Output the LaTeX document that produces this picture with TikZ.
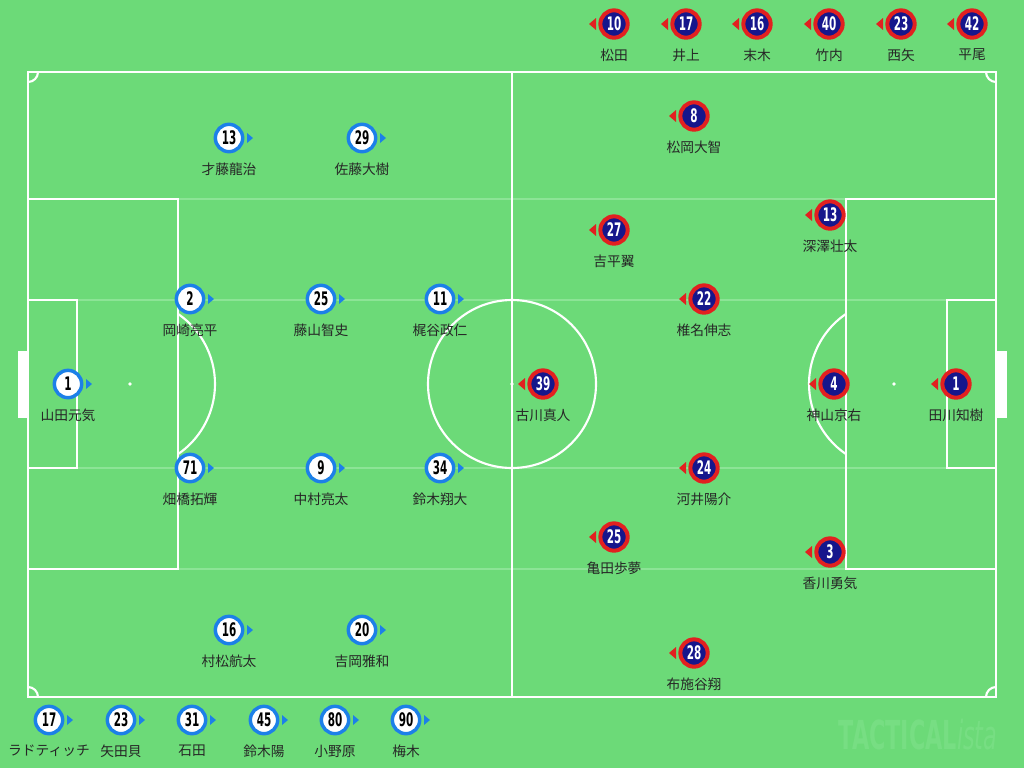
\documentclass[tikz,border=0pt]{standalone}
\usepackage{fontspec}
\newfontfamily\jpfont{Noto Sans CJK JP}
\newfontfamily\numfont{DejaVu Sans Condensed}
\definecolor{pitch}{RGB}{108,218,120}
\definecolor{pitchline}{RGB}{140,228,150}
\definecolor{homering}{RGB}{28,128,232}
\definecolor{awayring}{RGB}{226,32,32}
\definecolor{awaynavy}{RGB}{22,22,140}
\definecolor{logo}{RGB}{119,222,131}
\newcommand{\shirt}[1]{\scalebox{0.62}[1]{#1}}

\begin{document}
\begin{tikzpicture}[x=0.75pt, y=-0.75pt,
    line/.style={draw=white, line width=1.6pt},
    faint/.style={draw=pitchline, line width=0.8pt},
    home/.style={circle, draw=homering, fill=white, line width=2.6pt, minimum size=20.5pt, inner sep=0pt,
        font=\numfont\bfseries\fontsize{14}{14}\selectfont},
    away/.style={home, draw=awayring, fill=awaynavy, text=white, line width=3pt},
    pname/.style={font=\jpfont\fontsize{10.3}{12}\selectfont, text=black!85}]
    \useasboundingbox (0,0) rectangle (1024,768);
    \fill[pitch] (0,0) rectangle (1024,768);
    \foreach \y in {199,300,468,569}
        \draw[faint] (28,\y) -- (996,\y);
    \draw[line] (28,72) rectangle (996,697);
    \draw[line] (512,72) -- (512,697);
    \draw[line] (512,384) circle (84);
    \draw[line] (28,199) rectangle (178,569);
    \draw[line] (846,199) rectangle (996,569);
    \draw[line] (28,300) rectangle (77,468);
    \draw[line] (947,300) rectangle (996,468);
    \draw[line] (130,384) ++(-55.6:85) arc (-55.6:55.6:85);
    \draw[line] (894,384) ++(124.4:85) arc (124.4:235.6:85);
    \draw[line] (38,72) arc (0:90:10);
    \draw[line] (986,72) arc (180:90:10);
    \draw[line] (38,697) arc (0:-90:10);
    \draw[line] (986,697) arc (180:270:10);
    \fill[white] (18,351) rectangle (28,418);
    \fill[white] (996,351) rectangle (1007,418);
    \foreach \x in {130,512,894}
        \fill[white] (\x,384) circle (1.8);
    \node[font=\numfont\bfseries\fontsize{30}{30}\selectfont, text=logo] (logo) at (918,735)
        {\scalebox{0.62}[1]{TACTICAL\textmd{\itshape ista}}};

    \foreach \n/\x/\y/\who in {1/68/384/山田元気, 2/190/299/岡崎亮平, 25/321/299/藤山智史, 11/440/299/梶谷政仁,
        71/190/468/畑橋拓輝, 9/321/468/中村亮太, 34/440/468/鈴木翔大, 13/229/138/才藤龍治, 29/362/138/佐藤大樹,
        16/229/630/村松航太, 20/362/630/吉岡雅和, 17/49/720/ラドティッチ, 23/121/720/矢田貝, 31/192/720/石田,
        45/264/720/鈴木陽, 80/335/720/小野原, 90/406/720/梅木} {
        \node[home] (h\n) at (\x,\y) {\shirt{\n}};
        \fill[homering] ([shift={(18,-5)}]h\n.center) -- ([shift={(24,0)}]h\n.center)
            -- ([shift={(18,5)}]h\n.center) -- cycle;
        \node[pname] (hn\n) at (\x,\y+31) {\who};
    }
    \foreach \n/\x/\y/\who in {39/543/384/古川真人, 1/956/384/田川知樹, 4/834/384/神山京右, 22/704/299/椎名伸志,
        24/704/468/河井陽介, 13/830/215/深澤壮太, 3/830/552/香川勇気, 27/614/230/吉平翼, 25/614/537/亀田歩夢,
        8/694/116/松岡大智, 28/694/653/布施谷翔, 10/614/24/松田, 17/686/24/井上, 16/757/24/末木,
        40/829/24/竹内, 23/901/24/西矢, 42/972/24/平尾} {
        \node[away] (a\n) at (\x,\y) {\shirt{\n}};
        \fill[awayring] ([shift={(-18,-6)}]a\n.center) -- ([shift={(-25,0)}]a\n.center)
            -- ([shift={(-18,6)}]a\n.center) -- cycle;
        \node[pname] (an\n) at (\x,\y+31) {\who};
    }
\end{tikzpicture}
\end{document}
